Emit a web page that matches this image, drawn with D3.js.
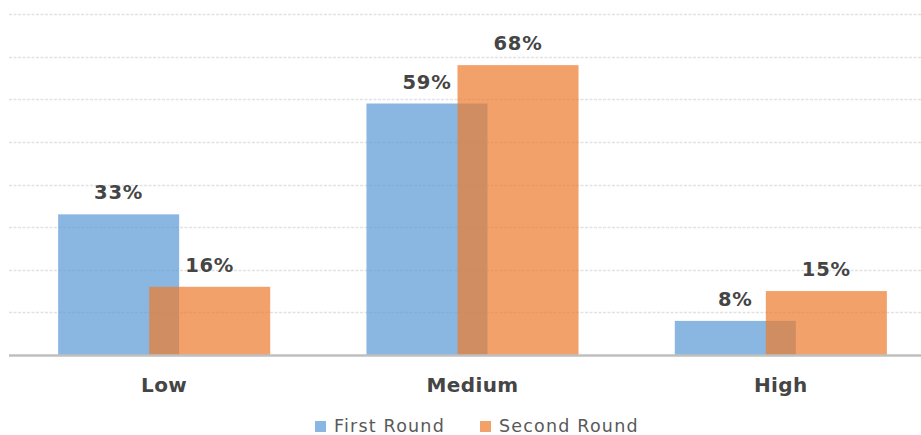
<!DOCTYPE html>
<meta charset="utf-8">
<style>
    body { margin: 0; background: #fff; }
    .valueLabel { font: bold 19.5px "DejaVu Sans", sans-serif; fill: #454545; text-anchor: middle; letter-spacing: 0.8px; }
    .catLabel { font: bold 20px "DejaVu Sans", sans-serif; fill: #454545; text-anchor: middle; letter-spacing: 0.4px; }
    .legendText { font: 17.5px "DejaVu Sans", sans-serif; fill: #595959; letter-spacing: 1.2px; }
</style>
<body>
<script src="https://d3js.org/d3.v7.min.js"></script>
<script>
    // data
    let categories = ["Low", "Medium", "High"];
    let series = ["First Round", "Second Round"];
    let firstRound = [0.33, 0.59, 0.08];
    let secondRound = [0.16, 0.68, 0.15];
    let gridTicks = [0.1, 0.2, 0.3, 0.4, 0.5, 0.6, 0.7, 0.8];

    let width = 921;
    let height = 435;
    let baseY = 355;

    let svg = d3.select("body").append("svg")
        .attr("width", width)
        .attr("height", height);

    let x = d3.scaleBand()
        .domain(categories)
        .range([10, 935])
        .padding(0);

    let y = d3.scaleLinear()
        .domain([0, 0.8])
        .range([baseY, 14]);

    // bars overlap each other inside a group
    let barW = x.bandwidth() * 0.3925;
    let xSub = d3.scalePoint()
        .domain(series)
        .range([-x.bandwidth() * 0.1476, x.bandwidth() * 0.1476]);

    let color = d3.scaleOrdinal()
        .domain(series)
        .range(["#5B9BD5", "#ED7D31"]);

    // gridlines
    svg.append("g").attr("id", "grid")
        .selectAll("line")
        .data(gridTicks)
        .join("line")
            .attr("x1", 9)
            .attr("x2", width)
            .attr("y1", d => Math.round(y(d)) + 0.5)
            .attr("y2", d => Math.round(y(d)) + 0.5)
            .attr("stroke", "#e2e2e2")
            .attr("stroke-width", 1.3)
            .attr("stroke-dasharray", "3,1.5");

    let rows = [];
    categories.forEach(function(c, i) {
        rows.push({cat: c, key: series[0], value: firstRound[i]});
        rows.push({cat: c, key: series[1], value: secondRound[i]});
    });

    let cx = d => x(d.cat) + x.bandwidth() / 2 + xSub(d.key);

    svg.append("g").attr("id", "bars")
        .selectAll("rect")
        .data(rows)
        .join("rect")
            .attr("x", d => cx(d) - barW / 2)
            .attr("y", d => y(d.value))
            .attr("width", barW)
            .attr("height", d => baseY - y(d.value))
            .attr("fill", d => color(d.key))
            .attr("fill-opacity", 0.72);

    // baseline
    svg.append("line")
        .attr("x1", 9)
        .attr("x2", width)
        .attr("y1", baseY + 0.5)
        .attr("y2", baseY + 0.5)
        .attr("stroke", "#bfbfbf")
        .attr("stroke-width", 2.5);

    svg.append("g").attr("id", "valueLabels")
        .selectAll("text")
        .data(rows)
        .join("text")
            .attr("class", "valueLabel")
            .attr("x", cx)
            .attr("y", d => y(d.value) - 15)
            .text(d => Math.round(d.value * 100) + "%");

    svg.append("g").attr("id", "catLabels")
        .selectAll("text")
        .data(categories)
        .join("text")
            .attr("class", "catLabel")
            .attr("x", d => x(d) + x.bandwidth() / 2)
            .attr("y", 392)
            .text(d => d);

    // legend
    let legendX = [315, 480];
    let legend = svg.append("g").attr("id", "legend")
        .selectAll("g")
        .data(series)
        .join("g")
            .attr("transform", (d, i) => "translate(" + legendX[i] + ",0)");
    legend.append("rect")
        .attr("x", 0)
        .attr("y", 421)
        .attr("width", 11)
        .attr("height", 11)
        .attr("fill", d => color(d))
        .attr("fill-opacity", 0.72);
    legend.append("text")
        .attr("class", "legendText")
        .attr("x", 19)
        .attr("y", 432)
        .text(d => d);
</script>
</body>
